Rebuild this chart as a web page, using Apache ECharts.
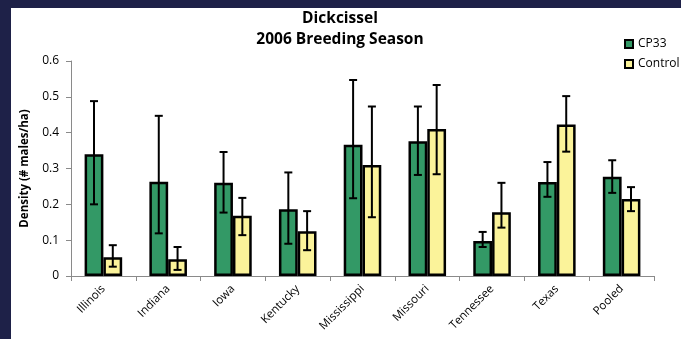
<!DOCTYPE html>
<html>
<head>
<meta charset="utf-8">
<script src="https://cdn.jsdelivr.net/npm/echarts@6/dist/echarts.min.js"></script>
<style>
  html, body { margin: 0; padding: 0; width: 681px; height: 339px; background: #1e2148; overflow: hidden; }
  #chart { position: absolute; left: 11px; top: 8px; width: 670px; height: 331px; background: #ffffff; }
</style>
</head>
<body>
<div id="chart"></div>
<script>
// Dickcissel density by state, 2006 breeding season
const categories = ['Illinois', 'Indiana', 'Iowa', 'Kentucky', 'Mississippi', 'Missouri', 'Tennessee', 'Texas', 'Pooled'];

const cp33 = [0.340, 0.263, 0.260, 0.186, 0.366, 0.376, 0.098, 0.262, 0.277];
const cp33Low = [0.200, 0.119, 0.177, 0.090, 0.217, 0.282, 0.081, 0.221, 0.232];
const cp33High = [0.488, 0.447, 0.346, 0.289, 0.547, 0.473, 0.123, 0.318, 0.323];

const control = [0.052, 0.047, 0.168, 0.125, 0.310, 0.410, 0.178, 0.423, 0.215];
const controlLow = [0.026, 0.017, 0.114, 0.072, 0.164, 0.284, 0.135, 0.347, 0.181];
const controlHigh = [0.086, 0.081, 0.218, 0.181, 0.473, 0.533, 0.260, 0.502, 0.248];

const yTicks = [0, 0.1, 0.2, 0.3, 0.4, 0.5, 0.6];

const FONT = '"Open Sans", "Noto Sans", sans-serif';
const BAR_FRACTION = 0.29;

// side: -1 for the left bar of a group, +1 for the right bar
function errorBars(low, high, side) {
  return {
    type: 'custom',
    z: 5,
    silent: true,
    data: categories.map((c, i) => [i, low[i], high[i]]),
    renderItem: function (params, api) {
      const band = api.size([1, 0])[0];
      const offset = side * band * BAR_FRACTION / 2;
      const lo = api.coord([api.value(0), api.value(1)]);
      const hi = api.coord([api.value(0), api.value(2)]);
      const x = lo[0] + offset;
      const cap = 4;
      const style = { stroke: '#000', lineWidth: 2 };
      return {
        type: 'group',
        children: [
          { type: 'line', shape: { x1: x, y1: lo[1], x2: x, y2: hi[1] }, style: style },
          { type: 'line', shape: { x1: x - cap, y1: hi[1], x2: x + cap, y2: hi[1] }, style: style },
          { type: 'line', shape: { x1: x - cap, y1: lo[1], x2: x + cap, y2: lo[1] }, style: style }
        ]
      };
    }
  };
}

const chart = echarts.init(document.getElementById('chart'), null, { renderer: 'canvas' });

chart.setOption({
  animation: false,
  backgroundColor: '#ffffff',
  title: {
    text: 'Dickcissel\n2006 Breeding Season',
    left: 329,
    textAlign: 'center',
    top: 0,
    padding: 0,
    textStyle: { fontFamily: FONT, fontSize: 15.5, fontWeight: 'bold', color: '#000', lineHeight: 21 }
  },
  legend: {
    orient: 'vertical',
    left: 613,
    top: 30,
    padding: 0,
    itemWidth: 8,
    itemHeight: 8,
    itemGap: 8,
    icon: 'rect',
    textStyle: { fontFamily: FONT, fontSize: 12, color: '#000' },
    data: ['CP33', 'Control']
  },
  grid: { left: 57, right: 27, top: 53, bottom: 63, containLabel: false },
  xAxis: {
    type: 'category',
    data: categories,
    axisLine: { lineStyle: { color: '#8a8a8a', width: 1 } },
    axisTick: { show: true, alignWithLabel: false, length: 5, lineStyle: { color: '#8a8a8a' } },
    axisLabel: { interval: 0, rotate: 45, fontFamily: FONT, fontSize: 11.5, color: '#000', margin: 11 }
  },
  yAxis: {
    type: 'value',
    min: yTicks[0],
    max: yTicks[yTicks.length - 1],
    interval: 0.1,
    name: 'Density (# males/ha)',
    nameLocation: 'middle',
    nameGap: 40,
    nameTextStyle: { fontFamily: FONT, fontSize: 11.5, fontWeight: 'bold', color: '#000' },
    axisLine: { show: true, lineStyle: { color: '#8a8a8a', width: 1 } },
    axisTick: { show: true, length: 5, lineStyle: { color: '#8a8a8a' } },
    splitLine: { show: false },
    axisLabel: {
      fontFamily: FONT, fontSize: 12, color: '#000', margin: 12,
      formatter: v => (Math.round(v * 10) / 10).toString()
    }
  },
  series: [
    {
      name: 'CP33',
      type: 'bar',
      data: cp33,
      barWidth: (BAR_FRACTION * 100) + '%',
      barGap: '0%',
      itemStyle: { color: '#339966', borderColor: '#000', borderWidth: 2.5 }
    },
    {
      name: 'Control',
      type: 'bar',
      data: control,
      barWidth: (BAR_FRACTION * 100) + '%',
      barGap: '0%',
      itemStyle: { color: '#fbf39a', borderColor: '#000', borderWidth: 2.5 }
    },
    errorBars(cp33Low, cp33High, -1),
    errorBars(controlLow, controlHigh, 1)
  ]
});
</script>
</body>
</html>
